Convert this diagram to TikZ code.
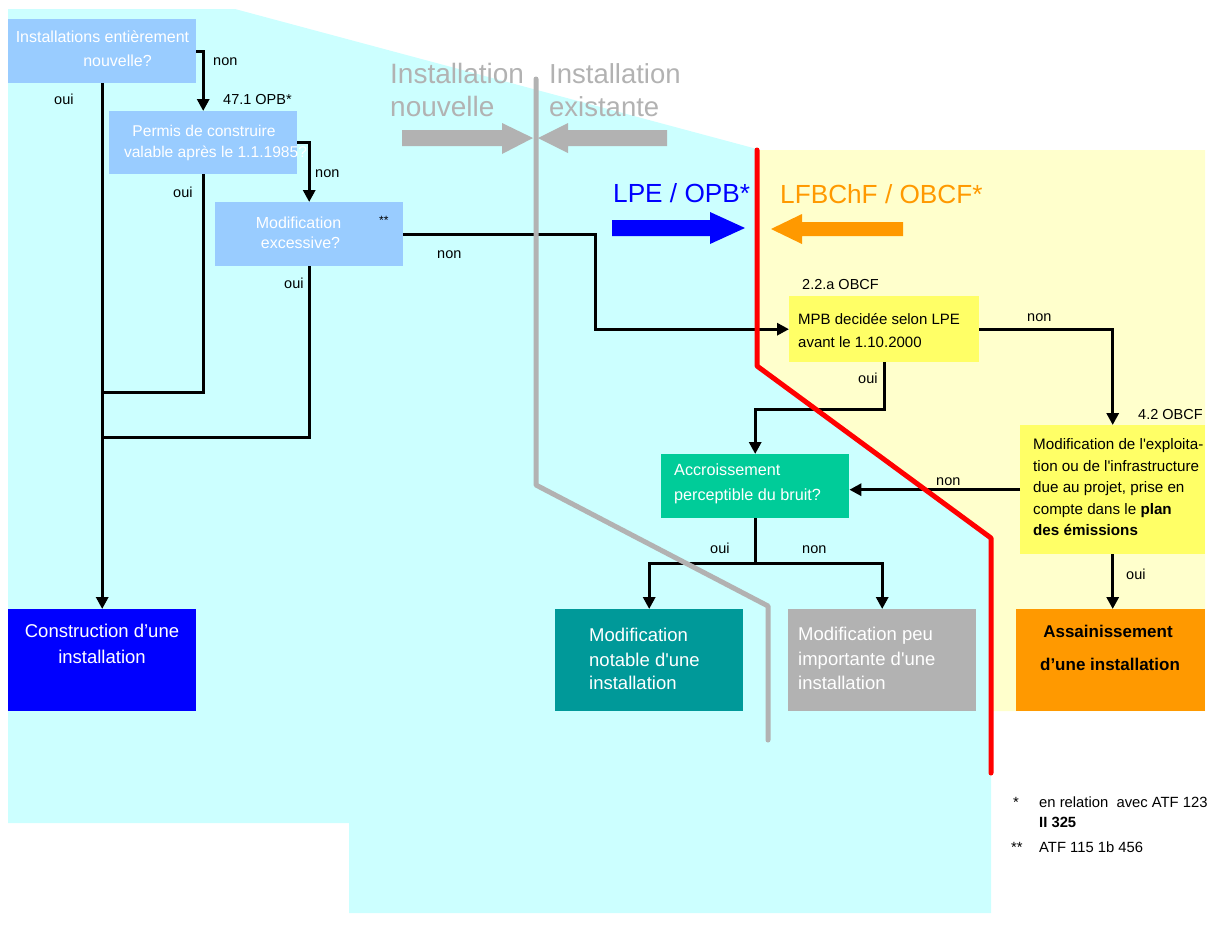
\documentclass[tikz,border=0pt]{standalone}
\usepackage{fontspec}
\setmainfont{Liberation Sans}[Ligatures=TeXOff]
\usetikzlibrary{arrows.meta}
\definecolor{cyanbg}{HTML}{CCFFFF}
\definecolor{paleyel}{HTML}{FFFFCC}
\definecolor{lblue}{HTML}{99CCFF}
\definecolor{yel}{HTML}{FFFF66}
\definecolor{grn}{HTML}{00CC99}
\definecolor{tealbox}{HTML}{009999}
\definecolor{gry}{HTML}{B2B2B2}
\definecolor{orng}{HTML}{FF9900}
\newcommand\fs[1]{\fontsize{#1}{#1}\selectfont}
\begin{document}
\begin{tikzpicture}[x=1pt,y=-1pt,
  box/.style={draw=none, inner sep=0pt, anchor=north west},
  txt/.style={inner sep=0pt, anchor=base west},
  ctxt/.style={inner sep=0pt, anchor=base},
  lab/.style={txt, font=\fs{14.5}, text=black},
  conn/.style={line width=3pt, draw=black, line join=miter},
  arr/.style={conn, -{Triangle[length=12pt,width=12pt]}},
  sep/.style={line width=5pt, line cap=round, line join=round}]
\useasboundingbox (0,0) rectangle (1213,927);
% background regions
\fill[cyanbg] (8,9) -- (235,9) -- (757,149) -- (757,366) -- (991,538) -- (991,913) -- (349,913) -- (349,823) -- (8,823) -- cycle;
\fill[paleyel] (757,150) -- (1205,150) -- (1205,711) -- (991,711) -- (991,538) -- (757,366) -- cycle;

% boxes
\node[box, fill=lblue, minimum width=188pt, minimum height=64pt] (A) at (8,19) {};
\node[box, fill=lblue, minimum width=188pt, minimum height=63pt] (B) at (109,111) {};
\node[box, fill=lblue, minimum width=188pt, minimum height=64pt] (C) at (215,202) {};
\node[box, fill=yel, minimum width=190pt, minimum height=66pt] (D) at (789,296) {};
\node[box, fill=yel, minimum width=185pt, minimum height=129pt] (E) at (1020,425) {};
\node[box, fill=grn, minimum width=188pt, minimum height=64pt] (F) at (661,454) {};
\node[box, fill=tealbox, minimum width=188pt, minimum height=102pt] (G) at (555,609) {};
\node[box, fill=gry, minimum width=188pt, minimum height=102pt] (H) at (788,609) {};
\node[box, fill=blue, minimum width=188pt, minimum height=102pt] (I) at (8,609) {};
\node[box, fill=orng, minimum width=189pt, minimum height=102pt] (J) at (1016,609) {};

% junction coordinates
\coordinate (j1) at (102,392);
\coordinate (j2) at (102,437);
\coordinate (k1) at (595,0);
\coordinate (k2) at (0,409);
\coordinate (k3) at (0,563);

% connectors
\draw[arr] (A.east) -| (B.north);
\draw[arr] (A.south) -- (I.north);
\draw[arr] (B.east) -| (C.north);
\draw[conn] (B.south) |- (j1);
\draw[conn] (C.south) |- (j2);
\draw[arr] (C.east) -| (k1 |- D.west) -- (D.west);
\draw[arr] (D.east) -| (E.north);
\draw[arr] (D.south) -- (D.south |- k2) -| (F.north);
\draw[arr] (E.west) -- (F.east |- E.west);
\draw[arr] (E.south) -- (E.south |- J.north);
\draw[conn] (F.south) -- (F.south |- k3);
\draw[arr] (F.south |- k3) -| (G.north);
\draw[arr] (F.south |- k3) -| (H.north);

% separator lines
\draw[sep, gry] (536,79) -- (536,485) -- (768,606) -- (768,740);
\draw[sep, red] (757,150) -- (757,366) -- (991,538) -- (991,773);

% block arrows
\fill[gry] (402,130) -- (502,130) -- (502,123) -- (533,138) -- (502,154) -- (502,146) -- (402,146) -- cycle;
\fill[gry] (667,130) -- (568,130) -- (568,123) -- (538,138) -- (568,153) -- (568,146) -- (667,146) -- cycle;
\fill[blue] (612,220) -- (710,220) -- (710,212) -- (745,228) -- (710,244) -- (710,236) -- (612,236) -- cycle;
\fill[orng] (903,222) -- (802,222) -- (802,214) -- (771,229) -- (802,244) -- (802,236) -- (903,236) -- cycle;

% big headings
\node[txt, text=gry, font=\fs{28}] (h1) at (390,83) {Installation};
\node[txt, text=gry, font=\fs{28}] (h2) at (390,116) {nouvelle};
\node[txt, text=gry, font=\fs{27.5}] (h3) at (549,83) {Installation};
\node[txt, text=gry, font=\fs{27.5}] (h4) at (549,116) {existante};
\node[txt, text=blue, font=\fs{26.2}] (h5) at (613,202) {LPE / OPB*};
\node[txt, text=orng, font=\fs{26.2}] (h6) at (780,203) {LFBChF / OBCF*};

% box texts
\node[ctxt, text=white, font=\fs{16}] (tA1) at (102.5,42) {Installations entièrement};
\node[ctxt, text=white, font=\fs{16}] (tA2) at (117.5,66) {nouvelle?};
\node[ctxt, text=white, font=\fs{15.6}] (tB1) at (204,136) {Permis de construire};
\node[ctxt, text=white, font=\fs{15.6}] (tB2) at (215.5,157) {valable après le 1.1.1985?};
\node[ctxt, text=white, font=\fs{16}] (tC1) at (298.5,228) {Modification};
\node[ctxt, text=white, font=\fs{16}] (tC2) at (300.5,248) {excessive?};
\node[txt, text=black, font=\fs{12}] (tC3) at (379,224) {**};
\node[txt, font=\fs{15}] (tD1) at (798,324) {MPB decidée selon LPE};
\node[txt, font=\fs{15}] (tD2) at (798,347) {avant le 1.10.2000};
\node[txt, font=\fs{15.2}] (tE1) at (1033,449) {Modification de l'exploita-};
\node[txt, font=\fs{15.2}] (tE2) at (1033,471) {tion ou de l'infrastructure};
\node[txt, font=\fs{15.2}] (tE3) at (1033,492) {due au projet, prise en};
\node[txt, font=\fs{15.2}] (tE4) at (1033,514) {compte dans le \textbf{plan}};
\node[txt, font=\fs{15.2}] (tE5) at (1033,535) {\textbf{des émissions}};
\node[txt, text=white, font=\fs{16.2}] (tF1) at (674,475) {Accroissement};
\node[txt, text=white, font=\fs{16.2}] (tF2) at (674,500) {perceptible du bruit?};
\node[txt, text=white, font=\fs{18.5}] (tG1) at (589,641) {Modification};
\node[txt, text=white, font=\fs{18.5}] (tG2) at (589,666) {notable d'une};
\node[txt, text=white, font=\fs{18.5}] (tG3) at (589,689) {installation};
\node[txt, text=white, font=\fs{18.5}] (tH1) at (798,640) {Modification peu};
\node[txt, text=white, font=\fs{18.5}] (tH2) at (798,665) {importante d'une};
\node[txt, text=white, font=\fs{18.5}] (tH3) at (798,689) {installation};
\node[ctxt, text=white, font=\fs{18.5}] (tI1) at (102,637) {Construction d’une};
\node[ctxt, text=white, font=\fs{18.5}] (tI2) at (102,663) {installation};
\node[ctxt, text=black, font=\bfseries\fs{17}] (tJ1) at (1108,637) {Assainissement};
\node[ctxt, text=black, font=\bfseries\fs{17}] (tJ2) at (1110,670) {d’une installation};

% connector labels
\node[lab] (l1) at (213,65) {non};
\node[lab] (l2) at (54,104) {oui};
\node[lab] (l3) at (223,104) {47.1 OPB*};
\node[lab] (l4) at (315,177) {non};
\node[lab] (l5) at (173,197) {oui};
\node[lab] (l6) at (284,288) {oui};
\node[lab] (l7) at (437,258) {non};
\node[lab] (l8) at (802,289) {2.2.a OBCF};
\node[lab] (l9) at (1027,321) {non};
\node[lab] (l10) at (858,383) {oui};
\node[lab] (l11) at (1138,419) {4.2 OBCF};
\node[lab] (l12) at (936,485) {non};
\node[lab] (l13) at (710,553) {oui};
\node[lab] (l14) at (802,553) {non};
\node[lab] (l15) at (1126,579) {oui};

% footnotes
\node[txt, font=\fs{14.8}] (f1) at (1013,807) {*};
\node[txt, font=\fs{14.8}] (f2) at (1039,807) {en relation\ \ avec ATF 123};
\node[txt, font=\bfseries\fs{14.8}] (f3) at (1039,827) {II 325};
\node[txt, font=\fs{14.8}] (f4) at (1011,852) {**};
\node[txt, font=\fs{14.8}] (f5) at (1039,852) {ATF 115 1b 456};
\end{tikzpicture}
\end{document}
